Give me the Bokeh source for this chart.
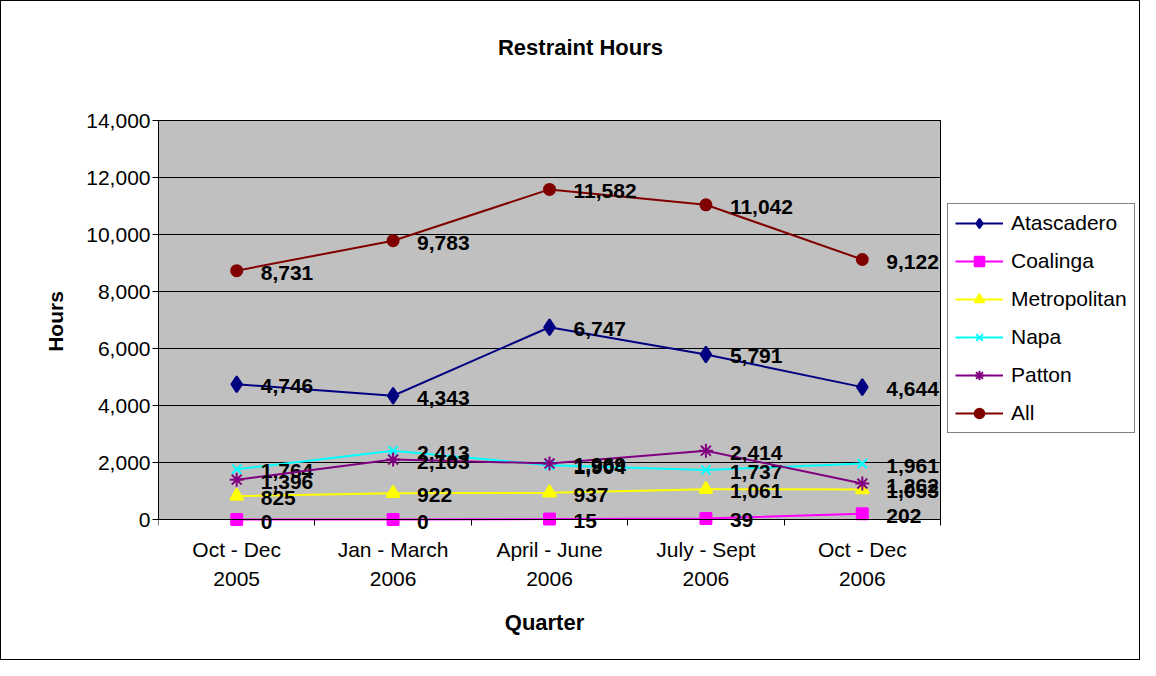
from bokeh.plotting import figure
from bokeh.models import (ColumnDataSource, FixedTicker, NumeralTickFormatter, Legend,
                          LegendItem, Range1d)
from bokeh.core.properties import value
from bokeh.embed import file_html
from bokeh.resources import INLINE

quarters = ["Oct - Dec\n2005", "Jan - March\n2006", "April - June\n2006", "July - Sept\n2006", "Oct - Dec\n2006"]
atascadero = [4746, 4343, 6747, 5791, 4644]
coalinga = [0, 0, 15, 39, 202]
metropolitan = [825, 922, 937, 1061, 1053]
napa = [1764, 2413, 1904, 1737, 1961]
patton = [1396, 2103, 1969, 2414, 1262]
all_hours = [8731, 9783, 11582, 11042, 9122]
y_ticks = list(range(0, 14001, 2000))

series = [
    ("Atascadero", atascadero, "#000080", "diamond", 16),
    ("Coalinga", coalinga, "#FF00FF", "square", 11),
    ("Metropolitan", metropolitan, "#FFFF00", "triangle", 13),
    ("Napa", napa, "#00FFFF", "x", 13),
    ("Patton", patton, "#800080", "asterisk", 14),
    ("All", all_hours, "#800000", "circle", 11),
]

FONT = "Liberation Sans"
FS = "21px"
xs = list(range(1, len(quarters) + 1))
n = len(quarters)

# frame geometry in pixels: the frame spans the whole chart height so nothing is clipped;
# the plot area itself (0..14000) sits 119 px below the frame top and is 399 px tall.
FRAME_W, FRAME_H = 980, 640
PLOT_TOP, PLOT_H = 119, 399
PX_PER_CAT = 156.4
U_PER_PX = 14000 / PLOT_H
x_end = 0.5 + FRAME_W / PX_PER_CAT
y_end = 14000 + PLOT_TOP * U_PER_PX
y_start = -(FRAME_H - PLOT_TOP - PLOT_H) * U_PER_PX

p = figure(frame_width=FRAME_W, frame_height=FRAME_H, output_backend="svg", toolbar_location=None,
           x_range=Range1d(0.5, x_end), y_range=Range1d(y_start, y_end),
           min_border_left=157, min_border_right=1, min_border_top=0, min_border_bottom=18)
p.background_fill_color = "white"
p.border_fill_color = "white"
p.outline_line_color = None
p.styles = {"border": "1px solid black"}

# plot area background + gridlines
p.quad(left=0.5, right=n + 0.5, bottom=0, top=y_ticks[-1],
       fill_color="#C0C0C0", line_color="black", line_width=1)
p.segment(x0=[0.5] * len(y_ticks), x1=[n + 0.5] * len(y_ticks), y0=y_ticks, y1=y_ticks,
          line_color="black", line_width=1)

# x axis drawn at y = 0 inside the frame
p.xaxis.fixed_location = 0
p.xaxis.bounds = (0.5, n + 0.5)
p.xaxis.ticker = FixedTicker(ticks=xs, minor_ticks=[0.5, 1.5, 2.5, 3.5, 4.5, 5.5])
p.xaxis.major_label_overrides = {i + 1: q for i, q in enumerate(quarters)}
p.xaxis.major_tick_out = 0
p.xaxis.major_tick_in = 0
p.xaxis.minor_tick_out = 6
p.xaxis.minor_tick_in = 0
p.xaxis.major_label_text_font = FONT
p.xaxis.major_label_text_font_size = FS
p.xaxis.major_label_text_color = "black"
p.xaxis.major_label_text_line_height = 1.3
p.xaxis.major_label_standoff = 12

p.yaxis.bounds = (0, 14000)
p.yaxis.ticker = FixedTicker(ticks=y_ticks)
p.yaxis.formatter = NumeralTickFormatter(format="0,0")
p.yaxis.major_tick_out = 6
p.yaxis.major_tick_in = 0
p.yaxis.minor_tick_out = 0
p.yaxis.minor_tick_in = 0
p.yaxis.major_label_text_font = FONT
p.yaxis.major_label_text_font_size = FS
p.yaxis.major_label_text_color = "black"
p.yaxis.major_label_standoff = 2
p.yaxis.axis_label = "Hours"
p.yaxis.axis_label_text_font = FONT
p.yaxis.axis_label_text_font_size = FS
p.yaxis.axis_label_text_font_style = "bold"
p.yaxis.axis_label_text_color = "black"
p.yaxis.axis_label_standoff = 16

for ax in (p.xaxis, p.yaxis):
    ax.axis_line_color = "black"
    ax.major_tick_line_color = "black"
    ax.minor_tick_line_color = "black"

p.xgrid.grid_line_color = None
p.ygrid.grid_line_color = None

# chart title and x-axis title, placed inside the frame
p.text(x=[0.5 + 422 / PX_PER_CAT], y=[14000 + 73 * U_PER_PX], text=["Restraint Hours"],
       text_font=value(FONT), text_font_size="22px", text_font_style="bold",
       text_color="black", text_align="center", text_baseline="middle")
p.text(x=[0.5 + 386 / PX_PER_CAT], y=[-103 * U_PER_PX], text=["Quarter"],
       text_font=value(FONT), text_font_size="22px", text_font_style="bold",
       text_color="black", text_align="center", text_baseline="middle")

items = []
for name, vals, color, marker, size in series:
    src = ColumnDataSource(dict(x=xs, y=vals, lab=[f"{v:,}" for v in vals]))
    ln = p.line("x", "y", source=src, line_color=color, line_width=2)
    mk = p.scatter("x", "y", source=src, marker=marker, size=size,
                   fill_color=color, line_color=color, line_width=2)
    p.text("x", "y", text="lab", source=src, x_offset=24, y_offset=2,
           text_font=value(FONT), text_font_size=FS, text_font_style="bold",
           text_color="black", text_baseline="middle", text_align="left")
    items.append(LegendItem(label=name, renderers=[ln, mk]))

legend = Legend(items=items, location=(789, 208))
legend.label_text_font = FONT
legend.label_text_font_size = FS
legend.label_text_color = "black"
legend.glyph_width = 48
legend.glyph_height = 24
legend.label_height = 24
legend.spacing = 14
legend.padding = 7
legend.margin = 0
legend.label_standoff = 8
legend.border_line_color = "black"
legend.border_line_width = 1
legend.background_fill_color = "white"
p.add_layout(legend, "center")

open("out.html", "w").write(file_html(p, INLINE))
